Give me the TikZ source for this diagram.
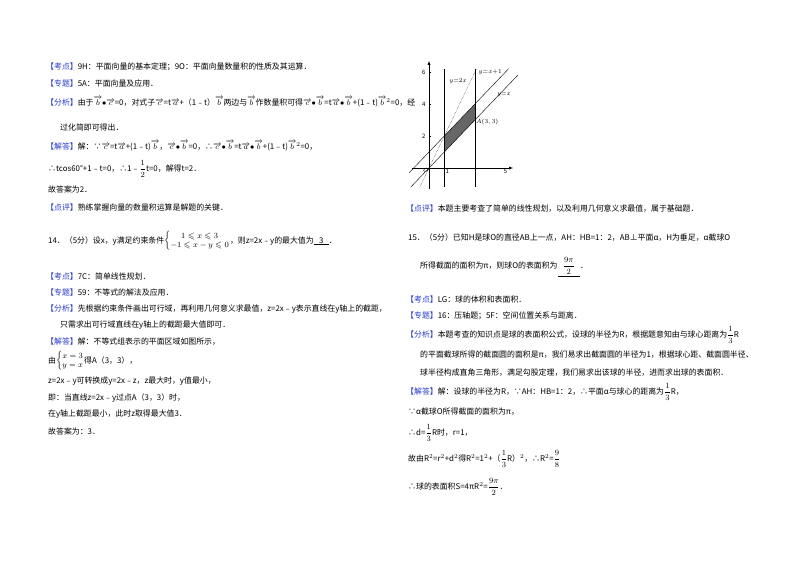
\documentclass[tikz,border=0pt]{standalone}
\usepackage{fontspec}
\usepackage{amsmath,amssymb}
\setmainfont{Noto Sans CJK SC}
\definecolor{lb}{RGB}{40,60,200}
\newcommand{\kw}[1]{\textcolor{lb}{【#1】}}
\newcommand{\vv}[1]{$\overrightarrow{#1}$}
\begin{document}
\begin{tikzpicture}[x=1pt,y=-1pt,
  t/.style={anchor=west,inner sep=0pt,font=\fontsize{7.9}{9}\selectfont}]
\useasboundingbox (0,0) rectangle (800,565);
\fill[white] (0,0) rectangle (800,565);
% left column
\node[t] (l1) at (46,67) {\kw{考点}9H：平面向量的基本定理；9O：平面向量数量积的性质及其运算．};
\node[t] (l2) at (46,83) {\kw{专题}5A：平面向量及应用．};
\node[t] (l3) at (46,102) {\kw{分析}由于\vv{b}$\bullet$\vv{c}=0，对式子\vv{c}=t\vv{a}+（1﹣t）\vv{b}两边与\vv{b}作数量积可得\vv{c}$\bullet$\vv{b}=t\vv{a}$\bullet$\vv{b}+(1﹣t)\vv{b}$^2$=0，经};
\node[t] (l4) at (60,127) {过化简即可得出．};
\node[t] (l5) at (46,146) {\kw{解答}解：∵\vv{c}=t\vv{a}+(1﹣t)\vv{b}，\vv{c}$\bullet$\vv{b}=0，∴\vv{c}$\bullet$\vv{b}=t\vv{a}$\bullet$\vv{b}+(1﹣t)\vv{b}$^2$=0，};
\node[t] (l6) at (48,169) {∴tcos60°+1﹣t=0，∴1﹣$\dfrac{1}{2}$t=0，解得t=2．};
\node[t] (l7) at (48,189) {故答案为2．};
\node[t] (l8) at (46,207) {\kw{点评}熟练掌握向量的数量积运算是解题的关键．};
\node[t] (q14) at (48,241) {14．（5分）设x，y满足约束条件$\left\{\begin{matrix}1\leqslant x\leqslant 3\\ -1\leqslant x-y\leqslant 0\end{matrix}\right.$，则z=2x﹣y的最大值为\underline{\ \ \ 3\ \ \ }．};
\node[t] (m1) at (46,276) {\kw{考点}7C：简单线性规划．};
\node[t] (m2) at (46,292) {\kw{专题}59：不等式的解法及应用．};
\node[t] (m3) at (46,309) {\kw{分析}先根据约束条件画出可行域，再利用几何意义求最值，z=2x﹣y表示直线在y轴上的截距，};
\node[t] (m4) at (60,325) {只需求出可行域直线在y轴上的截距最大值即可．};
\node[t] (m5) at (46,342) {\kw{解答}解：不等式组表示的平面区域如图所示，};
\node[t] (m6) at (48,361) {由$\left\{\begin{matrix}x=3\\ y=x\end{matrix}\right.$得A（3，3），};
\node[t] (m7) at (48,381) {z=2x﹣y可转换成y=2x﹣z，z最大时，y值最小，};
\node[t] (m8) at (48,398) {即：当直线z=2x﹣y过点A（3，3）时，};
\node[t] (m9) at (48,414) {在y轴上截距最小，此时z取得最大值3．};
\node[t] (m10) at (48,431) {故答案为：3．};
% graph
\begin{scope}[shift={(429,168)},x=15.3pt,y=16pt,font=\fontsize{6}{7}\selectfont]
\fill[gray!80!black] (1,1)--(3,3)--(3,4)--(1,2)--cycle;
\draw[-latex] (-1.1,0)--(5.5,0);
\draw[-latex] (0,-1.3)--(0,6.7);
\foreach \y in {2,4,6}{\draw (0,\y)--(0.12,\y); \node[left] at (0,\y) {\y};}
\foreach \y in {1,3,5}{\draw (0,\y)--(0.08,\y);}
\draw (1,0)--(1,0.1);
\node[below right,inner sep=1pt] at (1,0) {1};
\node[below,inner sep=1pt] at (5,0) {5};
\node[below left,inner sep=0pt] at (0,0) {$O$};
\draw[thin] (1,-1.2)--(1,6.2);
\draw[thin] (3,-1.2)--(3,6.2);
\draw[thin] (-1.2,-1.2)--(5.8,5.8);
\draw[thin] (-1.3,-0.3)--(5.2,6.2);
\draw[densely dotted] (-0.6,-1.2)--(3.1,6.2);
\node at (4.9,4.6) {$y{=}x$};
\node at (4.0,6.0) {$y{=}x{+}1$};
\node at (1.9,5.4) {$y{=}2x$};
\node[anchor=west,inner sep=1pt] at (3.0,2.9) {$A(3,3)$};
\end{scope}
% right column
\node[t] (r1) at (406,209) {\kw{点评}本题主要考查了简单的线性规划，以及利用几何意义求最值，属于基础题．};
\node[t] (r2) at (408,238) {15．（5分）已知H是球O的直径AB上一点，AH：HB=1：2，AB⊥平面α，H为垂足，α截球O};
\node[t] (r3) at (420,267) {所得截面的面积为π，则球O的表面积为\underline{\ \ \ $\dfrac{9\pi}{2}$\ \ \ }．};
\node[t] (r4) at (406,299) {\kw{考点}LG：球的体积和表面积．};
\node[t] (r5) at (406,316) {\kw{专题}16：压轴题；5F：空间位置关系与距离．};
\node[t] (r6) at (406,335) {\kw{分析}本题考查的知识点是球的表面积公式，设球的半径为R，根据题意知由与球心距离为$\dfrac{1}{3}$R};
\node[t] (r7) at (420,355) {的平面截球所得的截面圆的面积是π，我们易求出截面圆的半径为1，根据球心距、截面圆半径、};
\node[t] (r8) at (420,373) {球半径构成直角三角形，满足勾股定理，我们易求出该球的半径，进而求出球的表面积．};
\node[t] (r9) at (406,392) {\kw{解答}解：设球的半径为R，∵AH：HB=1：2，∴平面α与球心的距离为$\dfrac{1}{3}$R，};
\node[t] (r10) at (408,412) {∵α截球O所得截面的面积为π，};
\node[t] (r11) at (408,433) {∴d=$\dfrac{1}{3}$R时，r=1，};
\node[t] (r12) at (408,459) {故由R$^2$=r$^2$+d$^2$得R$^2$=1$^2$+（$\dfrac{1}{3}$R）$^2$，∴R$^2$=$\dfrac{9}{8}$};
\node[t] (r13) at (408,487) {∴球的表面积S=4πR$^2$=$\dfrac{9\pi}{2}$．};
\end{tikzpicture}
\end{document}
